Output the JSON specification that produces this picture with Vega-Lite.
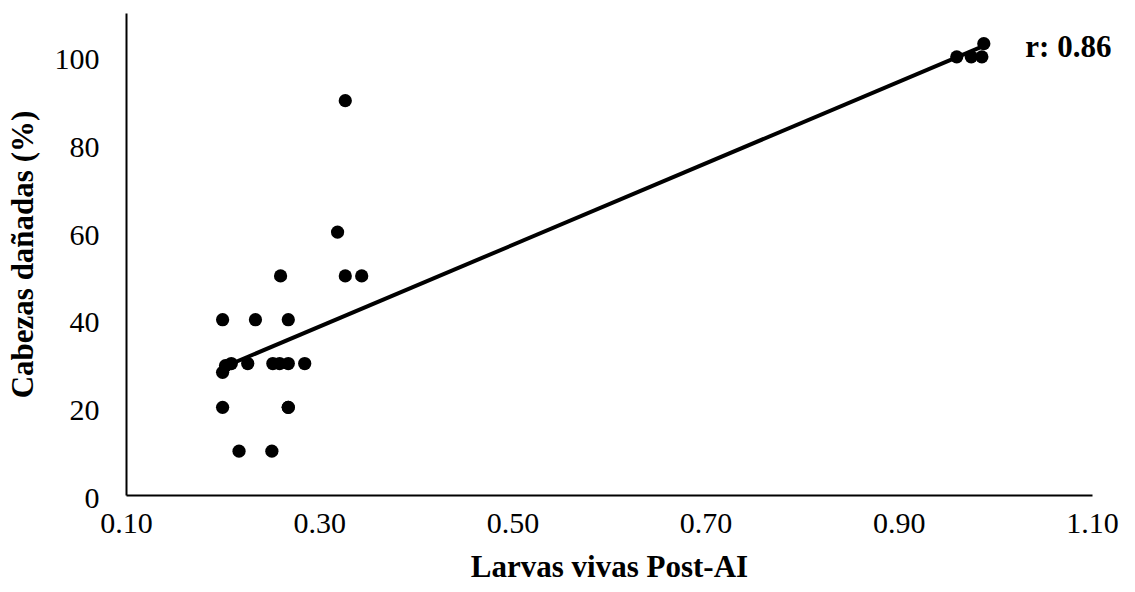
{
  "$schema": "https://vega.github.io/schema/vega-lite/v6.json",
  "autosize": {"type": "none"},
  "width": 966,
  "height": 482,
  "padding": {"left": 126, "top": 13, "right": 43, "bottom": 97},
  "background": "white",
  "config": {
    "view": {"stroke": null},
    "font": "Liberation Serif"
  },
  "datasets": {
    "pts": [
      {"x": 0.200, "y": 40}, {"x": 0.234, "y": 40}, {"x": 0.268, "y": 40},
      {"x": 0.200, "y": 28}, {"x": 0.203, "y": 29.5},
      {"x": 0.209, "y": 30}, {"x": 0.226, "y": 30}, {"x": 0.252, "y": 30},
      {"x": 0.259, "y": 30}, {"x": 0.268, "y": 30}, {"x": 0.285, "y": 30},
      {"x": 0.200, "y": 20}, {"x": 0.268, "y": 20}, {"x": 0.268, "y": 20},
      {"x": 0.217, "y": 10}, {"x": 0.251, "y": 10},
      {"x": 0.260, "y": 50}, {"x": 0.327, "y": 50}, {"x": 0.344, "y": 50},
      {"x": 0.319, "y": 60}, {"x": 0.327, "y": 90},
      {"x": 0.960, "y": 100}, {"x": 0.975, "y": 100}, {"x": 0.986, "y": 100},
      {"x": 0.988, "y": 103}
    ],
    "fit": [
      {"x": 0.200, "y": 29.1},
      {"x": 0.988, "y": 102.5}
    ],
    "label": [
      {"x": 1.031, "y": 102, "t": "r: 0.86"}
    ]
  },
  "layer": [
    {
      "data": {"name": "pts"},
      "mark": {"type": "circle", "color": "black", "opacity": 1, "size": 175},
      "encoding": {
        "x": {
          "field": "x", "type": "quantitative",
          "scale": {"domain": [0.1, 1.1], "nice": false, "zero": false},
          "axis": {
            "title": "Larvas vivas Post-AI",
            "values": [0.1, 0.3, 0.5, 0.7, 0.9, 1.1],
            "format": ".2f",
            "grid": false, "ticks": false, "labelFlush": false,
            "domainColor": "black", "domainWidth": 2,
            "labelFont": "Liberation Serif", "labelFontSize": 30, "labelColor": "black",
            "labelPadding": 13,
            "titleFont": "Liberation Serif", "titleFontSize": 31, "titleFontWeight": "bold", "titleColor": "black",
            "titlePadding": 14
          }
        },
        "y": {
          "field": "y", "type": "quantitative",
          "scale": {"domain": [0, 110], "nice": false},
          "axis": {
            "title": "Cabezas dañadas (%)",
            "values": [0, 20, 40, 60, 80, 100],
            "grid": false, "ticks": false, "labelFlush": false,
            "domainColor": "black", "domainWidth": 2,
            "labelFont": "Liberation Serif", "labelFontSize": 30, "labelColor": "black",
            "labelPadding": 27, "labelOffset": 3,
            "titleFont": "Liberation Serif", "titleFontSize": 31, "titleFontWeight": "bold", "titleColor": "black",
            "titlePadding": 15
          }
        }
      }
    },
    {
      "data": {"name": "fit"},
      "mark": {"type": "line", "color": "black", "strokeWidth": 4},
      "encoding": {
        "x": {"field": "x", "type": "quantitative"},
        "y": {"field": "y", "type": "quantitative"}
      }
    },
    {
      "data": {"name": "label"},
      "mark": {"type": "text", "align": "left", "baseline": "middle", "font": "Liberation Serif", "fontSize": 31, "fontWeight": "bold", "color": "black"},
      "encoding": {
        "x": {"field": "x", "type": "quantitative"},
        "y": {"field": "y", "type": "quantitative"},
        "text": {"field": "t"}
      }
    }
  ]
}
